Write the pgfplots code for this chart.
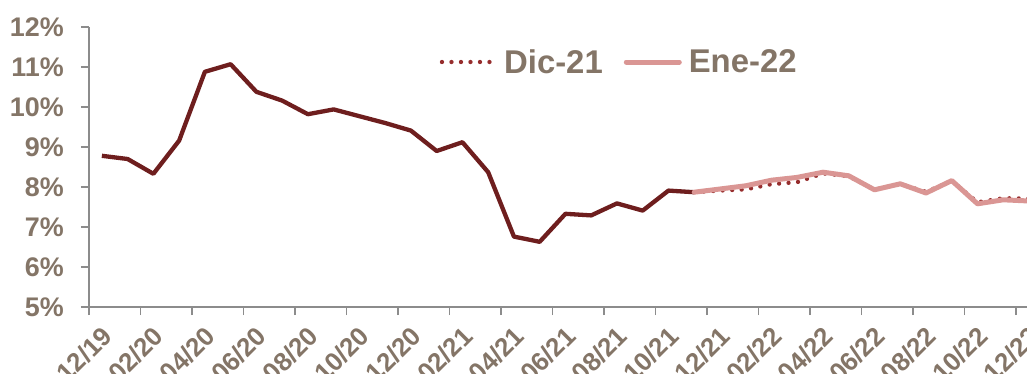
\documentclass[border=0pt]{standalone}
\usepackage{pgfplots}
\pgfplotsset{compat=1.18}
\usepackage{fontspec}
\setmainfont{Liberation Sans}
\definecolor{txt}{RGB}{132,117,103}
\definecolor{histc}{RGB}{110,30,30}
\definecolor{dicc}{RGB}{150,45,45}
\definecolor{enec}{RGB}{218,150,148}
\definecolor{axg}{RGB}{140,140,140}
\begin{document}
\begin{tikzpicture}
\begin{axis}[
  scale only axis, width=940bp, height=280bp,
  at={(0,0)}, anchor=south west,
  xmin=-0.5, xmax=36, ymin=5, ymax=12,
  axis lines*=left,
  axis line style={axg, line width=1.3bp, -},
  tick style={axg, line width=1.3bp},
  tick align=outside,
  major tick length=8bp,
  ytick={5,6,...,12},
  yticklabels={5\%,6\%,7\%,8\%,9\%,10\%,11\%,12\%},
  yticklabel style={font=\fontsize{27}{27}\bfseries\selectfont, text=txt, anchor=east, inner sep=0pt, xshift=-17bp},
  xtick={-0.5,1.5,...,35.5},
  xticklabels={},
  extra x ticks={0,2,...,36},
  extra x tick labels={12/19,02/20,04/20,06/20,08/20,10/20,12/20,02/21,04/21,06/21,08/21,10/21,12/21,02/22,04/22,06/22,08/22,10/22,12/22},
  extra x tick style={major tick length=0pt,
    xticklabel style={font=\fontsize{26}{26}\bfseries\selectfont, text=txt, xshift=-1.5bp, yshift=-17.5bp, rotate=45, anchor=north east, inner sep=0pt}},
  legend style={at={(rel axis cs:0.373,0.875)}, anchor=west, draw=none, fill=none,
    font=\fontsize{33}{33}\bfseries\selectfont, text=txt, inner sep=0pt,
    nodes={inner sep=0pt},
    /tikz/every odd column/.append style={column sep=7bp},
    /tikz/every even column/.append style={column sep=21bp}},
  legend columns=2,
  legend image code/.code={\draw[#1] (0bp,0bp) -- (53bp,0bp);},
  clip=true,
]
\addplot[color=histc, line width=4.3bp, line join=round, forget plot] coordinates {
(0,8.78) (1,8.70) (2,8.33) (3,9.16) (4,10.88) (5,11.07) (6,10.38) (7,10.16)
(8,9.82) (9,9.94) (10,9.77) (11,9.60) (12,9.41) (13,8.90) (14,9.12) (15,8.37)
(16,6.76) (17,6.63) (18,7.33) (19,7.29) (20,7.59) (21,7.41) (22,7.91) (23,7.87)};
\addplot[color=dicc, line width=4.3bp, line cap=round, dash pattern=on 0bp off 9.5bp] coordinates {
(23,7.87) (24,7.91) (25,7.94) (26,8.07) (27,8.12) (28,8.34) (29,8.27) (30,7.93)
(31,8.07) (32,7.88) (33,8.15) (34,7.62) (35,7.72) (36,7.71)};
\addlegendentry{Dic-21}
\addplot[color=enec, line width=5bp, line join=round, line cap=round] coordinates {
(23,7.87) (24,7.95) (25,8.03) (26,8.17) (27,8.24) (28,8.37) (29,8.28) (30,7.93)
(31,8.08) (32,7.85) (33,8.16) (34,7.58) (35,7.68) (36,7.65)};
\addlegendentry{Ene-22}
\end{axis}
\pgfresetboundingbox
\path (-89bp,-67bp) rectangle (938bp,307bp);
\end{tikzpicture}
\end{document}
